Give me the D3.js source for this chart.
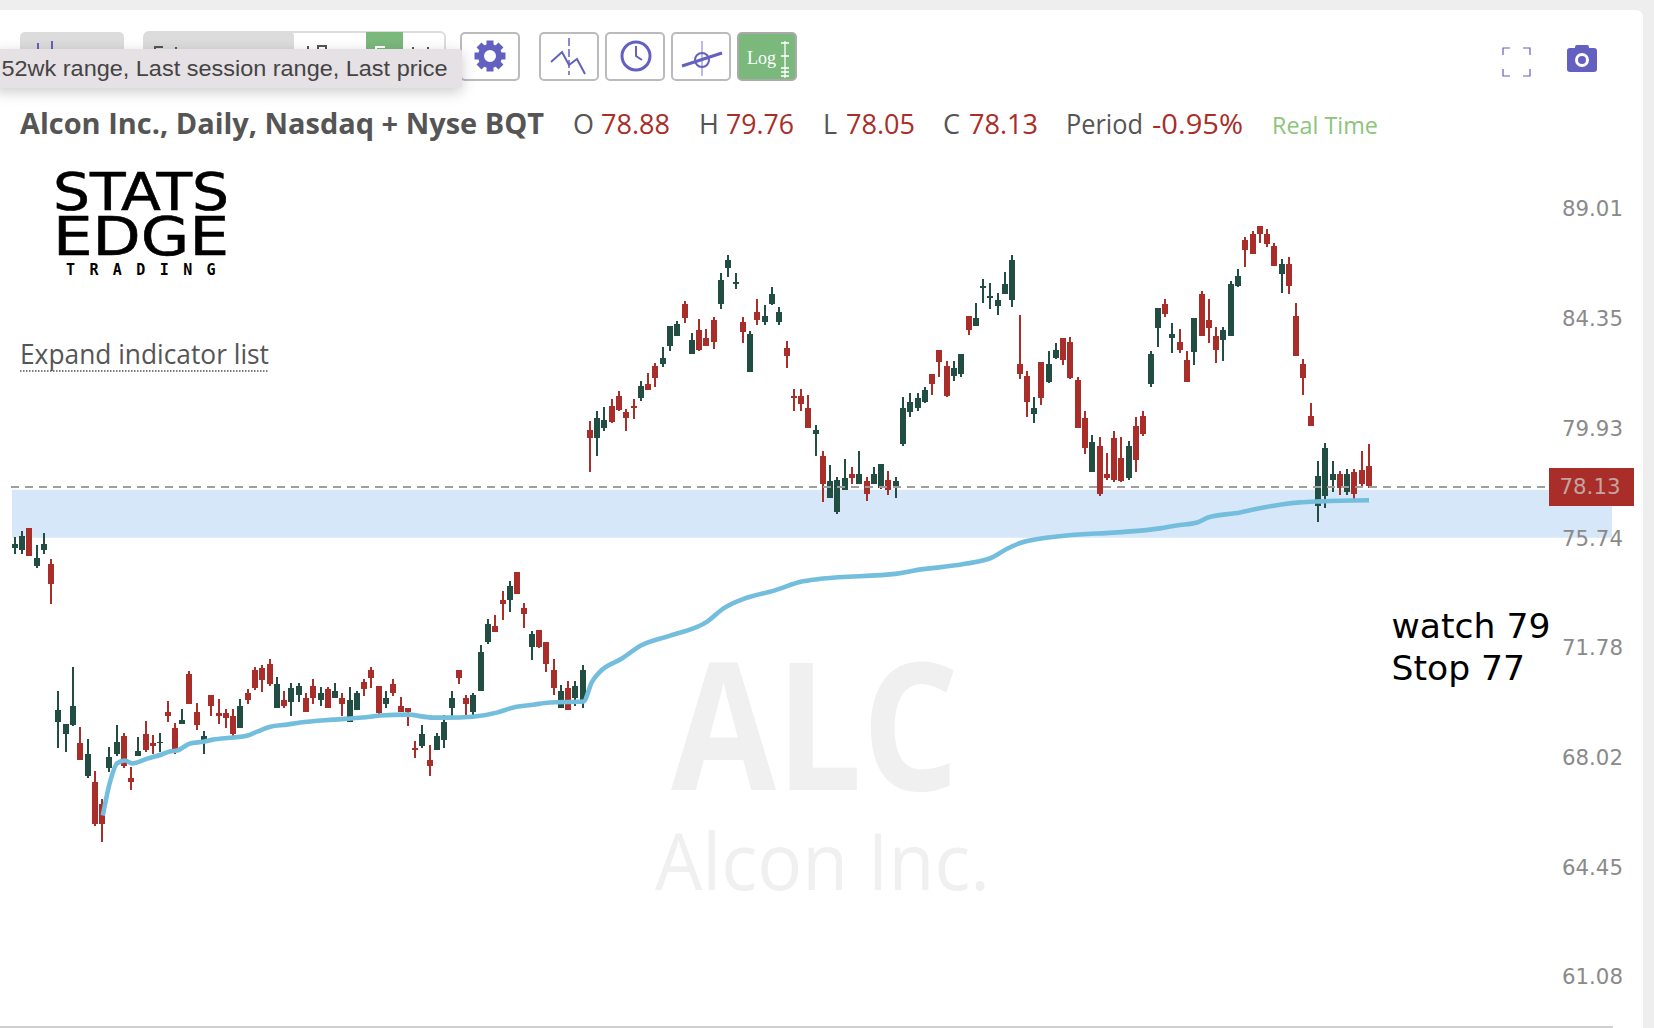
<!DOCTYPE html>
<html>
<head>
<meta charset="utf-8">
<script src="https://cdn.jsdelivr.net/npm/d3@7"></script>
<style>
  html, body { margin: 0; padding: 0; background: #eeeeee; }
  svg { display: block; }
  .hdr { font-family: "Open Sans", sans-serif; font-size: 27px; fill: #555; }
  .red { fill: #a92d29; }
  .axis text { font-family: "DejaVu Sans", sans-serif; font-size: 21.3px; fill: #8a8a8a; }
</style>
</head>
<body>
<svg id="chart" width="1654" height="1028"></svg>
<script>
// candles, oldest first
const open = [
  75.80,75.72,76.55,75.13,75.72,75.20,69.60,69.19,69.47,68.86,
  67.78,67.58,66.86,68.05,68.52,69.12,67.72,68.45,69.19,68.86,
  68.86,69.94,69.40,69.53,71.26,69.94,68.99,70.50,69.88,69.88,
  69.81,69.40,70.57,71.40,71.47,71.61,70.08,70.36,70.29,70.50,
  70.43,70.84,70.36,70.71,70.43,70.43,69.60,70.01,70.98,71.40,
  70.84,70.22,70.91,70.15,70.08,68.72,68.79,68.32,68.65,68.99,
  70.08,71.40,70.43,69.94,70.64,72.39,72.96,73.89,73.89,74.91,
  73.60,72.18,72.81,72.39,71.40,70.08,70.77,70.43,70.36,
  80.31,80.00,80.39,81.26,81.66,81.02,81.26,81.58,82.14,82.87,
  82.95,83.68,84.09,85.42,83.36,84.34,84.01,84.75,85.42,86.94,
  86.26,84.67,82.62,85.08,84.67,85.42,84.67,83.60,81.66,81.66,
  81.18,80.15,79.30,77.68,77.15,77.99,78.60,78.22,78.30,78.22,
  78.06,78.37,78.06,79.76,81.02,81.18,81.42,82.54,83.52,82.87,
  82.46,82.54,84.92,84.50,86.09,85.67,85.34,85.84,85.59,82.95,
  82.46,80.94,83.03,82.22,83.19,84.01,83.85,82.30,80.78,78.68,
  79.69,78.60,80.00,79.22,78.45,80.47,80.86,82.14,84.42,85.42,
  84.01,83.85,83.11,83.44,85.84,84.75,84.09,83.93,84.09,86.17,
  88.14,88.40,88.75,88.40,87.88,86.69,87.11,84.92,82.95,80.86,
  77.38,77.76,78.37,78.60,77.91,78.68,78.75,78.88
]
const high = [
  76.20,76.43,76.55,75.90,76.35,75.38,70.66,69.53,71.49,69.42,
  69.01,67.94,67.01,68.75,69.49,69.21,68.07,69.08,69.63,69.14,
  69.22,70.31,69.56,70.04,71.35,70.24,69.28,70.50,70.38,70.04,
  70.04,70.38,70.73,71.49,71.56,71.77,71.14,70.66,70.94,70.94,
  70.59,71.07,70.79,70.79,70.94,70.59,70.79,70.66,71.07,71.49,
  70.84,70.66,71.07,70.45,70.08,68.95,69.49,68.81,69.22,69.83,
  70.66,71.40,70.52,70.59,72.27,73.20,73.34,74.21,74.57,74.91,
  73.77,72.77,72.81,72.39,71.77,70.87,71.00,71.00,71.56,
  80.65,81.05,81.21,81.53,81.85,81.13,81.53,82.25,82.57,82.98,
  83.63,84.50,84.70,85.53,84.20,84.78,84.37,84.86,86.71,87.48,
  86.71,84.86,84.29,85.62,85.37,86.12,85.28,83.88,81.93,81.93,
  81.69,80.49,79.48,78.94,78.47,79.17,78.86,79.48,78.47,78.86,
  78.98,78.70,78.47,81.61,81.77,81.77,82.01,82.54,83.52,83.06,
  83.06,83.35,84.92,85.45,86.46,86.29,85.87,86.78,87.48,84.95,
  82.65,81.61,83.03,83.47,83.79,84.01,84.04,82.41,81.05,80.10,
  80.03,79.40,80.26,80.03,79.87,80.81,81.05,83.47,85.25,85.62,
  84.61,84.37,83.47,84.83,85.96,85.62,84.45,84.45,86.37,86.88,
  88.26,88.52,88.75,88.60,88.00,87.31,87.40,85.45,83.14,81.37,
  79.09,79.79,79.09,78.70,78.78,78.78,79.48,79.76
]
const low = [
  75.55,75.55,75.48,75.03,75.55,73.72,68.70,68.56,69.44,68.32,
  67.69,66.12,65.60,67.90,68.43,68.03,67.30,68.43,68.56,68.50,
  68.56,69.58,68.50,69.51,70.22,69.31,68.50,69.79,69.51,69.37,
  69.10,69.40,70.20,70.68,70.61,70.82,70.08,70.06,69.78,70.29,
  69.94,70.20,70.13,70.06,70.41,69.78,69.58,69.99,70.47,70.75,
  69.81,70.06,70.47,69.92,69.44,68.36,68.70,67.76,68.63,68.70,
  69.81,70.89,69.83,69.83,70.64,72.29,72.72,73.15,73.43,74.08,
  72.86,71.73,72.15,71.30,70.52,70.06,69.99,70.13,70.06,
  78.65,79.27,80.28,80.59,81.07,80.28,80.75,81.47,81.90,82.03,
  82.84,83.49,84.07,84.64,83.33,83.49,83.68,83.57,85.22,86.57,
  86.06,83.82,82.60,84.56,84.56,85.39,84.56,82.76,81.07,81.07,
  80.39,79.27,77.50,77.68,77.05,77.96,78.19,78.19,77.57,78.19,
  78.03,77.80,77.65,79.66,80.83,81.07,81.39,81.71,82.43,81.63,
  82.27,82.43,84.15,84.50,85.48,85.22,84.97,85.82,85.31,82.35,
  80.83,80.59,81.31,82.19,83.16,82.92,82.35,80.39,79.35,78.65,
  77.73,78.34,78.27,78.27,78.34,78.65,80.05,82.03,83.65,84.89,
  83.41,83.41,82.22,82.92,84.07,83.82,83.00,83.08,84.09,86.14,
  87.00,87.54,88.02,87.85,87.03,85.90,85.82,83.25,81.71,80.44,
  76.75,77.28,77.88,77.80,77.80,77.60,78.14,78.05
]
const close = [
  75.95,76.25,75.50,75.43,75.95,74.47,70.01,69.53,70.15,68.32,
  68.52,66.21,66.21,68.39,68.92,68.12,67.58,68.59,68.65,68.79,
  68.92,69.81,68.65,69.67,70.22,69.47,69.12,70.15,69.81,69.74,
  69.19,70.15,70.36,70.77,71.05,70.91,70.91,70.15,70.77,70.84,
  69.94,70.43,70.57,70.08,70.64,70.22,70.36,70.57,70.71,71.12,
  69.88,70.43,70.57,69.94,69.94,68.65,69.19,68.12,69.12,69.60,
  70.43,71.12,70.22,70.50,72.03,73.03,72.74,73.75,74.40,74.11,
  73.38,72.67,72.18,71.61,70.77,70.64,70.01,70.84,71.40,
  80.00,80.78,80.70,80.62,81.10,80.78,81.18,82.06,81.90,82.38,
  83.19,84.50,84.59,84.83,83.93,83.52,83.68,83.85,86.43,87.28,
  86.35,84.26,84.18,84.75,84.92,85.84,85.08,83.27,81.58,81.34,
  80.39,80.31,78.22,78.30,78.37,78.45,78.45,78.60,77.83,78.60,
  78.98,77.98,78.30,81.18,81.42,81.58,81.90,82.14,83.03,81.66,
  82.79,83.35,84.34,84.83,86.17,85.75,85.59,86.26,87.28,82.54,
  81.42,81.18,81.58,82.95,83.52,83.11,82.38,80.39,79.61,79.84,
  77.83,78.45,78.37,78.30,79.69,79.14,80.15,83.35,85.25,85.00,
  84.18,83.52,82.22,84.83,84.09,84.42,83.52,84.34,86.26,86.60,
  87.71,87.54,88.40,87.97,87.03,87.11,86.17,83.27,82.38,80.47,
  78.52,79.61,78.60,78.06,78.60,77.83,78.22,78.13
]
// blue moving average, read at these candle positions
const maIndex = [
  12.1,13.1,14.05,15.15,16.1,18.2,20.2,21.3,22.3,24.1,25.9,27.2,30,31.9,33.3,35.1,37.4,39.2,
  43.7,47.8,50.2,53.9,57.4,59.4,62.9,66.2,68.4,71.2,73.5,78.1,79.3,80.4,83.4,86,90,95.1,97.3,
  100.2,104.4,108.1,111,121.2,123.4,130.5,134.2,136.3,138.3,144.4,151.5,157.3,159.6,162.4,
  163.9,168.3,171,174.2,176.5,179.3,186
]
const maValue = [
  66.47,67.58,68.19,68.29,68.19,68.35,68.49,68.59,68.62,68.86,68.92,68.99,69.06,69.12,69.26,69.43,69.50,69.57,
  69.67,69.74,69.81,69.84,69.74,69.74,69.77,69.91,70.08,70.18,70.26,70.29,70.98,71.33,71.79,72.25,72.60,73.10,73.57,
  73.93,74.23,74.55,74.66,74.84,74.95,75.20,75.43,75.76,75.99,76.25,76.37,76.52,76.63,76.74,
  76.93,77.12,77.28,77.43,77.50,77.54,77.58
]
const priceTicks = [89.01, 84.35, 79.93, 75.74, 71.78, 68.02, 64.45, 61.08]
const lastPrice = 78.13
const zone = [77.98, 76.17]

const green = '#224d42'
const red = '#a92d29'
const violet = '#6460bf'

const svg = d3.select('#chart')

// SCALES
const x = d3.scaleLinear().domain([0, open.length - 1]).range([14.7, 1369])
const y = d3.scaleLog().domain([89.01, 61.08]).range([220, 988])

// CARD
svg.append('rect').attr('x', -8).attr('y', 10).attr('width', 1651).attr('height', 1030)
  .attr('rx', 7).attr('fill', '#fff')
svg.append('line').attr('x1', 0).attr('x2', 1613).attr('y1', 1027).attr('y2', 1027)
  .attr('stroke', '#cfcfcf').attr('stroke-width', 2)

// WATERMARK
svg.append('text').attr('x', 671).attr('y', 790).attr('textLength', 288)
  .attr('lengthAdjust', 'spacingAndGlyphs')
  .style('font', 'bold 178px "Open Sans"').attr('fill', '#f0f0f0').text('ALC')
svg.append('text').attr('x', 655).attr('y', 890).attr('textLength', 335)
  .attr('lengthAdjust', 'spacingAndGlyphs')
  .style('font', '79px "Open Sans"').attr('fill', '#f0f0f0').text('Alcon Inc.')

// ZONE
svg.append('rect').attr('x', 12).attr('width', 1600)
  .attr('y', y(zone[0])).attr('height', y(zone[1]) - y(zone[0]))
  .attr('fill', '#d6e7f9')

// CANDLES
const candles = svg.append('g').selectAll('g').data(open.map((o, i) => i)).join('g')
  .attr('fill', i => (close[i] < open[i] ? red : green))
  .attr('shape-rendering', 'crispEdges')
candles.append('rect')
  .attr('x', i => Math.round(x(i)) - 1)
  .attr('width', 2)
  .attr('y', i => y(high[i]))
  .attr('height', i => y(low[i]) - y(high[i]))
candles.append('rect')
  .attr('x', i => Math.round(x(i)) - 3)
  .attr('width', 6)
  .attr('y', i => y(Math.max(open[i], close[i])))
  .attr('height', i => Math.abs(y(close[i]) - y(open[i])))

// LAST PRICE
svg.append('line').attr('x1', 11).attr('x2', 1545)
  .attr('y1', y(lastPrice) + 1).attr('y2', y(lastPrice) + 1)
  .attr('stroke', '#9e9e9e').attr('stroke-width', 2).attr('stroke-dasharray', '8 6')

// MOVING AVERAGE
const maLine = d3.line().x((d, i) => x(maIndex[i])).y(d => y(d)).curve(d3.curveMonotoneX)
svg.append('path').datum(maValue).attr('d', maLine)
  .attr('fill', 'none').attr('stroke', '#74bedd').attr('stroke-width', 4.6)

// AXIS, labels sit a little above their price
const axis = d3.axisRight(y).tickValues(priceTicks).tickFormat(d3.format('.2f')).tickSize(0).tickPadding(0)
svg.append('g').attr('class', 'axis').attr('transform', 'translate(1562,-11)').call(axis)
  .call(g => g.select('.domain').remove())

svg.append('rect').attr('x', 1549).attr('y', 468).attr('width', 85).attr('height', 38).attr('fill', '#a92e2a')
svg.append('text').attr('x', 1590).attr('y', 494).attr('text-anchor', 'middle')
  .style('font', '21.3px "DejaVu Sans"').attr('fill', '#c4a4a0').text(lastPrice.toFixed(2))

// NOTE
svg.append('text').attr('x', 1391.5).attr('y', 638).style('font', '34.6px "DejaVu Sans"').attr('fill', '#000').text('watch 79')
svg.append('text').attr('x', 1391.5).attr('y', 680).style('font', '34.6px "DejaVu Sans"').attr('fill', '#000').text('Stop 77')

// HEADER
const hdr = svg.append('g')
hdr.append('text').attr('x', 20).attr('y', 134).attr('textLength', 524).attr('lengthAdjust', 'spacingAndGlyphs')
  .attr('class', 'hdr').style('font-weight', 700).style('font-size', '28.5px').text('Alcon Inc., Daily, Nasdaq + Nyse BQT')
const hdrItems = [
  ['O', 573, 0, ''], ['78.88', 601, 69, 'red'], ['H', 699, 0, ''], ['79.76', 726, 68, 'red'],
  ['L', 823, 0, ''], ['78.05', 846, 69, 'red'], ['C', 943, 0, ''], ['78.13', 969, 69, 'red'],
  ['Period', 1066, 77, ''], ['-0.95%', 1152, 91, 'red']
]
hdrItems.forEach(d => {
  const t = hdr.append('text').attr('x', d[1]).attr('y', 134).attr('class', 'hdr ' + d[3]).text(d[0])
  if (d[2]) t.attr('textLength', d[2]).attr('lengthAdjust', 'spacingAndGlyphs')
})
hdr.append('text').attr('x', 1272).attr('y', 134).attr('class', 'hdr').attr('textLength', 106).attr('lengthAdjust', 'spacingAndGlyphs')
  .style('font-size', '24.5px').style('fill', '#8cc47a').text('Real Time')

svg.append('text').attr('x', 20).attr('y', 364).attr('textLength', 249).attr('lengthAdjust', 'spacingAndGlyphs')
  .attr('class', 'hdr').text('Expand indicator list')
svg.append('line').attr('x1', 20).attr('x2', 269).attr('y1', 371).attr('y2', 371)
  .attr('stroke', '#555').attr('stroke-width', 1.5).attr('stroke-dasharray', '1.5 1.5')

// LOGO
const logo = svg.append('g').attr('fill', '#000')
logo.append('text').attr('x', 53).attr('y', 210).attr('textLength', 176).attr('lengthAdjust', 'spacingAndGlyphs')
  .style('font', '51px "DejaVu Sans"').attr('stroke', '#000').attr('stroke-width', 0.6).text('STATS')
logo.append('text').attr('x', 53).attr('y', 255).attr('textLength', 176).attr('lengthAdjust', 'spacingAndGlyphs')
  .style('font', '54px "DejaVu Sans"').attr('stroke', '#000').attr('stroke-width', 0.6).text('EDGE')
logo.append('text').attr('x', 66).attr('y', 275).style('font', 'bold 15px "DejaVu Sans Mono"')
  .attr('letter-spacing', 14.4).text('TRADING')

// TOOLBAR
const bar = svg.append('g')
bar.append('rect').attr('x', 20).attr('y', 32).attr('width', 104).attr('height', 40).attr('rx', 5).attr('fill', '#dcdcdc')
bar.append('path').attr('d', 'M38 43V50M52 41V50').attr('stroke', violet).attr('stroke-width', 2)
bar.append('rect').attr('x', 144).attr('y', 32).attr('width', 301).attr('height', 40).attr('rx', 5)
  .attr('fill', '#fff').attr('stroke', '#dcdcdc').attr('stroke-width', 2)
bar.append('rect').attr('x', 144).attr('y', 32).attr('width', 150).attr('height', 40).attr('rx', 4).attr('fill', '#dcdcdc')
bar.append('rect').attr('x', 366).attr('y', 32).attr('width', 37).attr('height', 40).attr('fill', '#7ab87c')
// tops of the button captions, the rest is behind the tooltip
bar.append('path').attr('d', 'M155 49V47H163M176 49V47M308 49V46M318 49V46H326V49M413 49V47M428 49V47')
  .attr('fill', 'none').attr('stroke', '#555').attr('stroke-width', 2)
bar.append('path').attr('d', 'M376 49V47H385').attr('fill', 'none').attr('stroke', '#fff').attr('stroke-width', 2)

const buttons = [461, 540, 606, 672]
bar.selectAll('.btn').data(buttons).join('rect').attr('class', 'btn')
  .attr('x', d => d).attr('y', 33).attr('width', 58).attr('height', 47).attr('rx', 4)
  .attr('fill', '#fff').attr('stroke', '#bbb').attr('stroke-width', 2)
bar.append('rect').attr('x', 738).attr('y', 33).attr('width', 58).attr('height', 47).attr('rx', 4)
  .attr('fill', '#7ab87c').attr('stroke', '#aaa').attr('stroke-width', 2)

// gear
const gear = bar.append('g').attr('transform', 'translate(490,56)')
d3.range(8).forEach(k => {
  gear.append('rect').attr('x', -3.5).attr('y', -15.5).attr('width', 7).attr('height', 8).attr('fill', violet)
    .attr('transform', `rotate(${k * 45})`)
})
gear.append('circle').attr('r', 9).attr('fill', 'none').attr('stroke', violet).attr('stroke-width', 6)

// tick chart icon
bar.append('path').attr('d', 'M551 62L562 52L569 65L577 59L585 74').attr('fill', 'none').attr('stroke', violet).attr('stroke-width', 2)
bar.append('path').attr('d', 'M569 38V75').attr('stroke', violet).attr('stroke-width', 1.5).attr('stroke-dasharray', '8 3')
// clock
bar.append('circle').attr('cx', 636).attr('cy', 56).attr('r', 14).attr('fill', 'none').attr('stroke', violet).attr('stroke-width', 3)
bar.append('path').attr('d', 'M636 46V56L642 60').attr('fill', 'none').attr('stroke', violet).attr('stroke-width', 2)
// trend icon
bar.append('path').attr('d', 'M702 41V76').attr('stroke', '#a5a3e2').attr('stroke-width', 1.5)
bar.append('circle').attr('cx', 702).attr('cy', 60).attr('r', 7).attr('fill', 'none').attr('stroke', violet).attr('stroke-width', 2)
bar.append('path').attr('d', 'M682 66L722 53').attr('stroke', violet).attr('stroke-width', 3)
// log button
bar.append('text').attr('x', 747).attr('y', 64).style('font', '18px "Liberation Serif"').attr('fill', '#fff').text('Log')
bar.append('path').attr('d', 'M785 41V78M781 43H789M781 56H789M781 68H789M781 72H789M781 76H789')
  .attr('stroke', '#fff').attr('stroke-width', 1.3)

// fullscreen and camera
bar.append('path').attr('d', 'M1503 55V48H1510M1523 48H1530V55M1503 69V76H1510M1523 76H1530V69')
  .attr('fill', 'none').attr('stroke', violet).attr('stroke-width', 1.2)
bar.append('rect').attr('x', 1567).attr('y', 48).attr('width', 30).attr('height', 24).attr('rx', 3).attr('fill', violet)
bar.append('rect').attr('x', 1575).attr('y', 45).attr('width', 14).attr('height', 5).attr('rx', 2).attr('fill', violet)
bar.append('circle').attr('cx', 1582).attr('cy', 60).attr('r', 5.5).attr('fill', 'none').attr('stroke', '#fff').attr('stroke-width', 3)

// TOOLTIP
svg.append('rect').attr('x', -6).attr('y', 49).attr('width', 468).attr('height', 39).attr('rx', 3)
  .attr('fill', '#e6e1e4').style('filter', 'drop-shadow(0 4px 7px rgba(0,0,0,.2))')
svg.append('text').attr('x', 1.5).attr('y', 76).attr('textLength', 446).attr('lengthAdjust', 'spacingAndGlyphs')
  .style('font', '22px "Liberation Sans"').attr('fill', '#444').text('52wk range, Last session range, Last price')
</script>
</body>
</html>
